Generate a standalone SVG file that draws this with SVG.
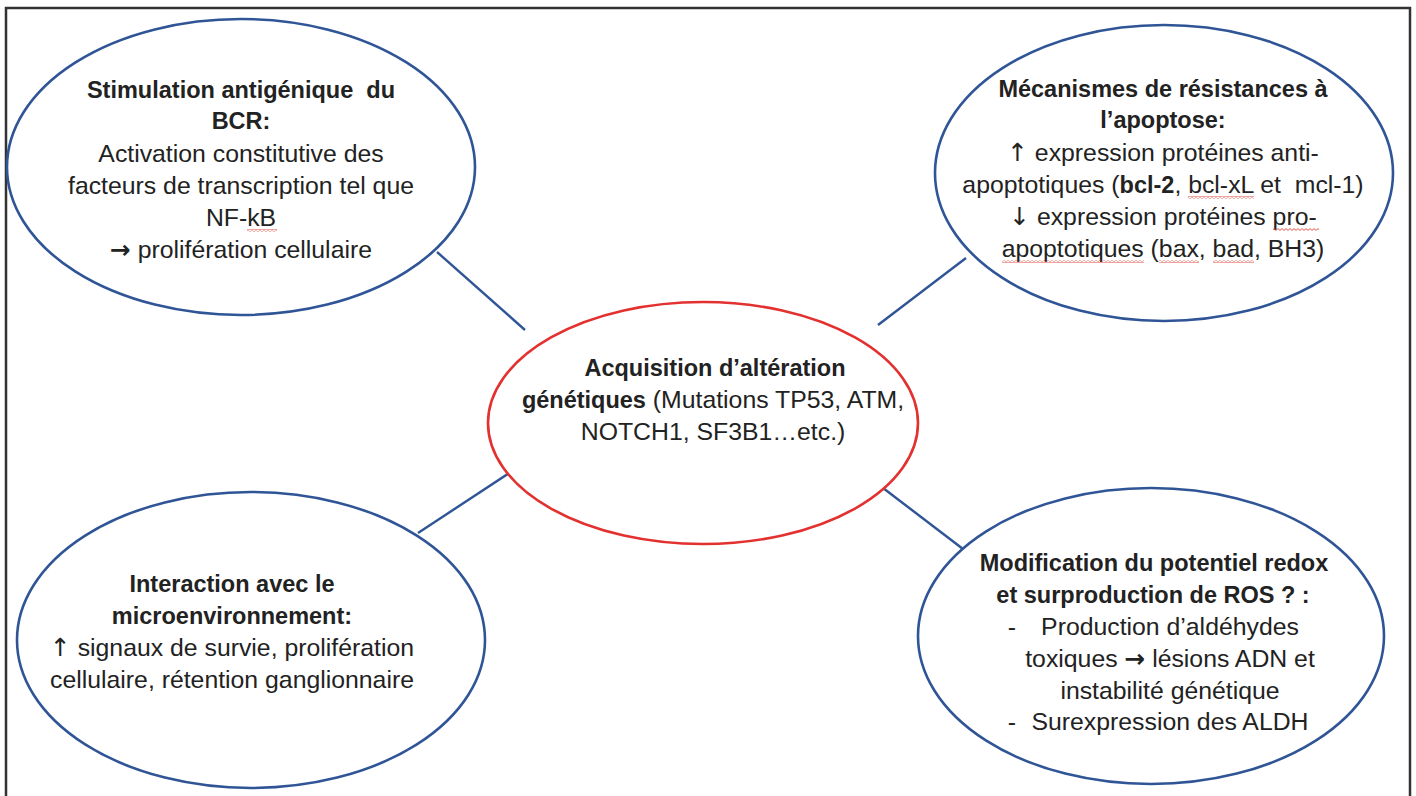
<svg xmlns="http://www.w3.org/2000/svg" width="1416" height="796" viewBox="0 0 1416 796">
<style>
  .node { fill: #ffffff; stroke: #2F5597; stroke-width: 2.6; }
  .core { fill: #ffffff; stroke: #E2312E; stroke-width: 2.6; }
  .link { stroke: #2F5597; stroke-width: 2.4; fill: none; }
  text { font-family: "Liberation Sans", Arial, sans-serif; font-size: 24.8px; fill: #222222; text-anchor: middle; white-space: pre; }
  .b { font-weight: bold; font-size: 23.5px; }
  .ar { font-family: "DejaVu Sans", sans-serif; }
  .arb { font-family: "DejaVu Sans", sans-serif; font-weight: bold; }
  .sq { fill: url(#wave); }
</style>
<defs>
  <pattern id="wave" width="4" height="3" patternUnits="userSpaceOnUse">
    <path d="M0,2.4 L2,0.6 L4,2.4" fill="none" stroke="#E0453A" stroke-width="0.9"/>
  </pattern>
</defs>
<rect x="0" y="0" width="1416" height="796" fill="#ffffff"/>
<rect id="frame" x="6" y="8" width="1404" height="800" fill="none" stroke="#333333" stroke-width="2.5"/>

<g id="connectors">
  <line class="link" x1="437" y1="252" x2="525" y2="330"/>
  <line class="link" x1="966" y1="258" x2="878" y2="325"/>
  <line class="link" x1="418" y1="533" x2="526" y2="462"/>
  <line class="link" x1="963" y1="549" x2="866" y2="475"/>
</g>

<g id="node-bcr">
  <ellipse class="node" cx="241" cy="167" rx="234" ry="148"/>
  <text x="241" y="98" class="b">Stimulation antigénique  du</text>
  <text x="241" y="129" class="b">BCR:</text>
  <text x="241" y="162">Activation constitutive des</text>
  <text x="241" y="194">facteurs de transcription tel que</text>
  <text x="241" y="226">NF-kB</text>
  <text x="241" y="258"><tspan class="arb">→</tspan> prolifération cellulaire</text>
  <rect class="sq" x="247" y="229" width="30" height="3"/>
</g>

<g id="node-apoptose">
  <ellipse class="node" cx="1164" cy="173" rx="229" ry="148"/>
  <text x="1163" y="97" class="b">Mécanismes de résistances à</text>
  <text x="1163" y="128" class="b">l’apoptose:</text>
  <text x="1163" y="161"><tspan class="ar">↑</tspan> expression protéines anti-</text>
  <text x="1163" y="193">apoptotiques (<tspan class="b">bcl-2</tspan>, bcl-xL et  mcl-1)</text>
  <text x="1163" y="225"><tspan class="ar">↓</tspan> expression protéines pro-</text>
  <text x="1163" y="257">apoptotiques (bax, bad, BH3)</text>
  <rect class="sq" x="1188" y="196" width="66" height="3"/>
  <rect class="sq" x="1273" y="228" width="46" height="3"/>
  <rect class="sq" x="1002" y="260" width="142" height="3"/>
  <rect class="sq" x="1159" y="260" width="40" height="3"/>
  <rect class="sq" x="1213" y="260" width="41" height="3"/>
</g>

<g id="node-center">
  <ellipse class="core" cx="703" cy="423" rx="215" ry="121"/>
  <text x="715" y="376" class="b">Acquisition d’altération</text>
  <text x="713" y="408"><tspan class="b">génétiques</tspan> (Mutations TP53, ATM,</text>
  <text x="713" y="440">NOTCH1, SF3B1…etc.)</text>
</g>

<g id="node-micro">
  <ellipse class="node" cx="251" cy="640" rx="234" ry="148"/>
  <text x="232" y="592" class="b">Interaction avec le</text>
  <text x="232" y="624" class="b">microenvironnement:</text>
  <text x="232" y="656"><tspan class="ar">↑</tspan> signaux de survie, prolifération</text>
  <text x="232" y="688">cellulaire, rétention ganglionnaire</text>
</g>

<g id="node-redox">
  <ellipse class="node" cx="1151" cy="636" rx="233" ry="148"/>
  <text x="1154" y="571" class="b">Modification du potentiel redox</text>
  <text x="1153" y="603" class="b">et surproduction de ROS ? :</text>
  <text x="1012" y="635">-</text>
  <text x="1170" y="635">Production d’aldéhydes</text>
  <text x="1170" y="667">toxiques <tspan class="arb">→</tspan> lésions ADN et</text>
  <text x="1170" y="699">instabilité génétique</text>
  <text x="1012" y="730">-</text>
  <text x="1170" y="730">Surexpression des ALDH</text>
</g>
</svg>
